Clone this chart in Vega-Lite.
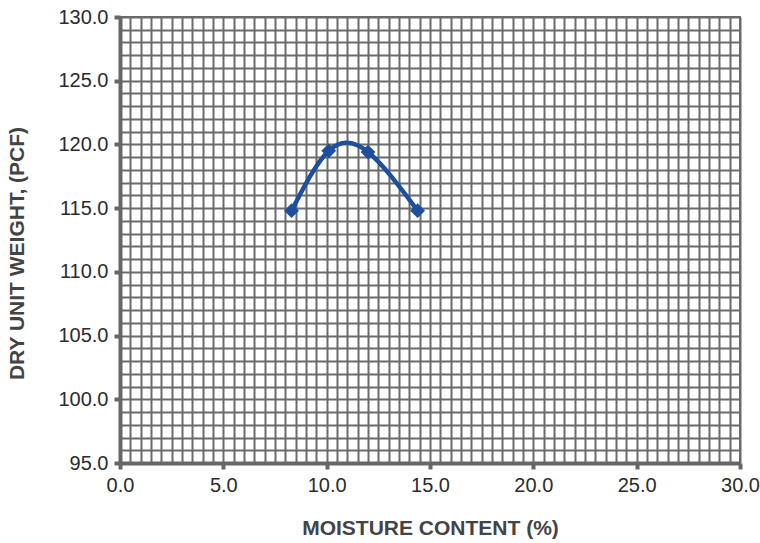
{
  "$schema": "https://vega.github.io/schema/vega-lite/v6.json",
  "autosize": "none",
  "padding": {"left": 120, "top": 17, "right": 20, "bottom": 80},
  "width": 620,
  "height": 446,
  "background": "white",
  "config": {
    "font": "Liberation Sans",
    "view": {"stroke": "#6b6b6b", "strokeWidth": 2}
  },
  "data": {
    "values": [
      {"moisture": 8.3, "density": 114.8},
      {"moisture": 10.1, "density": 119.5},
      {"moisture": 12.0, "density": 119.4},
      {"moisture": 14.4, "density": 114.8}
    ]
  },
  "layer": [
    {
      "mark": {"type": "line", "interpolate": "natural", "color": "#1d4f9f", "strokeWidth": 4.5},
      "encoding": {
        "x": {
          "field": "moisture", "type": "quantitative",
          "scale": {"domain": [0, 30], "nice": false},
          "axis": {
            "orient": "bottom",
            "tickCount": 60, "grid": true, "gridColor": "#6b6b6b", "gridWidth": 2, "gridOpacity": 1,
            "labels": false, "ticks": false, "domain": false, "title": null
          }
        },
        "y": {
          "field": "density", "type": "quantitative",
          "scale": {"domain": [95, 130], "nice": false, "zero": false},
          "axis": {
            "orient": "left",
            "tickCount": 35, "grid": true, "gridColor": "#6b6b6b", "gridWidth": 2, "gridOpacity": 1,
            "labels": false, "ticks": false, "domain": false, "title": null
          }
        }
      }
    },
    {
      "mark": {"type": "point", "shape": "diamond", "filled": true, "color": "#1d4f9f", "opacity": 1, "size": 220},
      "encoding": {
        "x": {
          "field": "moisture", "type": "quantitative",
          "axis": {
            "orient": "bottom",
            "values": [0, 5, 10, 15, 20, 25, 30], "format": ".1f", "grid": false,
            "domainColor": "#666666", "domainWidth": 4, "labelFlush": false,
            "tickColor": "#666666", "tickWidth": 4, "tickSize": 6,
            "labelFontSize": 20, "labelColor": "#2b2b2b", "labelPadding": 6,
            "title": "MOISTURE CONTENT (%)", "titleFontSize": 21, "titleFontWeight": "bold",
            "titleColor": "#444444", "titlePadding": 22
          }
        },
        "y": {
          "field": "density", "type": "quantitative",
          "axis": {
            "orient": "left",
            "values": [95, 100, 105, 110, 115, 120, 125, 130], "format": ".1f", "grid": false,
            "domainColor": "#666666", "domainWidth": 4, "labelFlush": false,
            "tickColor": "#666666", "tickWidth": 4, "tickSize": 6,
            "labelFontSize": 20, "labelColor": "#2b2b2b", "labelPadding": 6,
            "title": "DRY UNIT WEIGHT, (PCF)", "titleFontSize": 21, "titleFontWeight": "bold",
            "titleColor": "#444444", "titlePadding": 30, "titleY": 236
          }
        }
      }
    }
  ],
  "resolve": {"axis": {"x": "independent", "y": "independent"}}
}
